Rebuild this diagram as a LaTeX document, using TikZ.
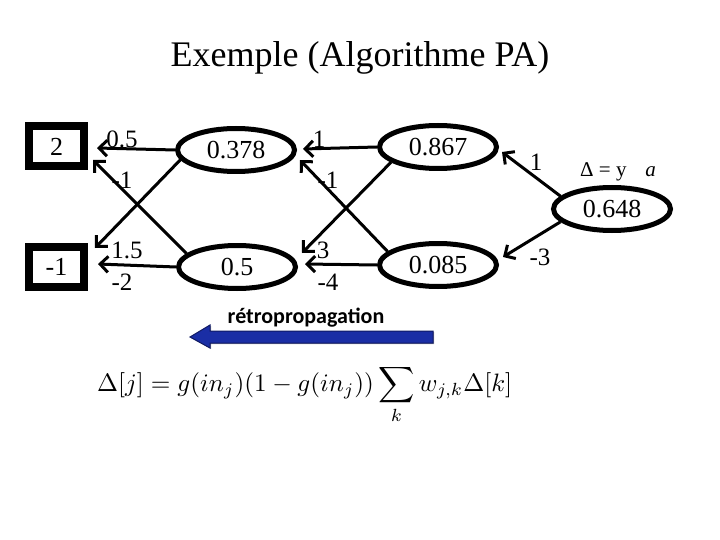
\documentclass[tikz,border=0pt]{standalone}
\usepackage{fontspec}
\usepackage{graphicx}
\setmainfont{Liberation Serif}
\newfontfamily\calib{Carlito}
\usetikzlibrary{shapes.geometric,arrows.meta}
\definecolor{bpblue}{RGB}{26,46,165}
\definecolor{bpedge}{RGB}{15,25,100}
\begin{document}
\begin{tikzpicture}[x=1pt,y=-1pt,
  neuron/.style={ellipse,draw,line width=5pt,minimum width=117pt,minimum height=43pt,inner sep=0pt,font=\fontsize{26}{28}\selectfont},
  unit/.style={rectangle,draw,line width=8pt,minimum width=55pt,minimum height=40pt,inner sep=0pt,font=\fontsize{26}{28}\selectfont},
  wire/.style={line width=3pt,-{Straight Barb[length=8pt,width=16pt]}},
  wlab/.style={font=\fontsize{25}{28}\selectfont,inner sep=0pt}]
\useasboundingbox (0,0) rectangle (720,540);
\node[font=\fontsize{36}{40}\selectfont] (title) at (360,58) {Exemple (Algorithme PA)};
% input units
\node[unit] (o1) at (56.5,146.5) {2};
\node[unit] (o2) at (56.5,267) {-1};
% hidden layer 1
\node[neuron] (h1) at (236,150) {0.378};
\node[neuron] (h2) at (237,267) {0.5};
% hidden layer 2
\node[neuron] (g1) at (438,147) {0.867};
\node[neuron] (g2) at (438,265) {0.085};
% output
\node[neuron] (out) at (612,209) {0.648};
\node[font=\fontsize{21}{24}\selectfont,inner sep=0pt,anchor=west] (delta) at (580,172) {Δ = y\hspace{0.9em}\textit{a}};
% coordinates for arrow tips
\coordinate (t11) at (97,148);
\coordinate (t12) at (95,248);
\coordinate (t21) at (93,160);
\coordinate (t22) at (98,264);
\draw[wire] (h1.west) -- (t11);
\draw[wire] (h1.190) -- (t12);
\draw[wire] (h2.165) -- (t21);
\draw[wire] (h2.west) -- (t22);
\coordinate (u11) at (303,149);
\coordinate (u12) at (302,253);
\coordinate (u21) at (300,160);
\coordinate (u22) at (305,264);
\draw[wire] (g1.west) -- (u11);
\draw[wire] (g1.198) -- (u12);
\draw[wire] (g2.165) -- (u21);
\draw[wire] (g2.west) -- (u22);
\coordinate (v1) at (502,152);
\coordinate (v2) at (503,257);
\draw[wire] (out.166) -- (v1);
\draw[wire] (out.194) -- (v2);
% weight labels
\node[wlab] (l1) at (122,139) {0.5};
\node[wlab] (l2) at (122,180) {-1};
\node[wlab] (l3) at (127,250) {1.5};
\node[wlab] (l4) at (122,282) {-2};
\node[wlab] (l5) at (319,139) {1};
\node[wlab] (l6) at (328,180) {-1};
\node[wlab] (l7) at (323,250) {3};
\node[wlab] (l8) at (328,282) {-4};
\node[wlab] (l9) at (536,162) {1};
\node[wlab] (l10) at (540,257) {-3};
% backprop arrow
\fill[black!35] (434,332) -- (211,332) -- (211,326) -- (191,338) -- (211,349) -- (211,344) -- (434,344) -- cycle;
\filldraw[fill=bpblue,draw=bpedge,line width=1pt] (433,331) -- (210,331) -- (210,325) -- (190,337) -- (210,348) -- (210,343) -- (433,343) -- cycle;
\node[font=\calib\bfseries\fontsize{22}{24}\selectfont,inner sep=0pt] (bp) at (306,318) {rétropropagation};
% formula
\node[inner sep=0pt,anchor=north west] (eq) at (97,365) {\resizebox{415pt}{!}{$\displaystyle \Delta[j] = g(in_j)(1-g(in_j))\sum_k w_{j,k}\Delta[k]$}};
\end{tikzpicture}
\end{document}
